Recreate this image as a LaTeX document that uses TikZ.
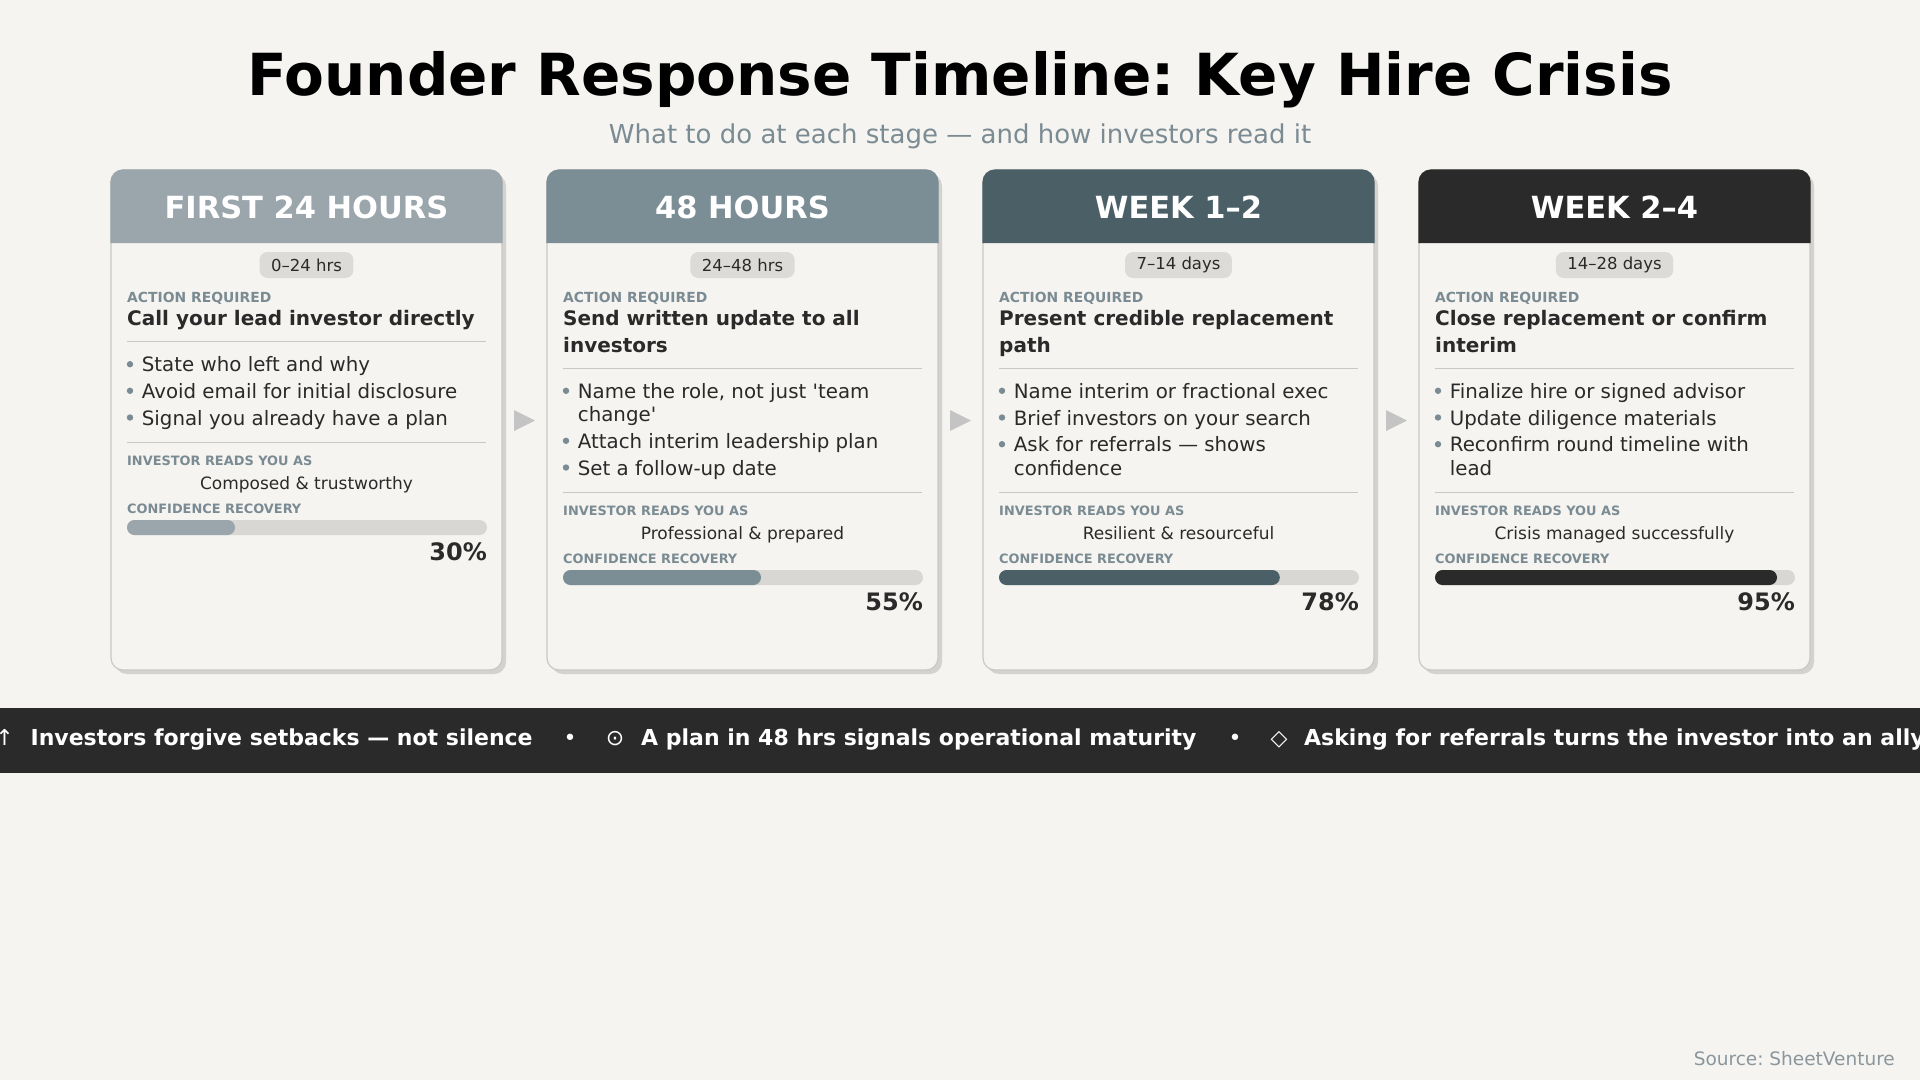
\documentclass[tikz,border=0pt]{standalone}
\usepackage{fontspec}
\setmainfont{DejaVu Sans}
\frenchspacing
\definecolor{bgc}{HTML}{F5F4F0}
\definecolor{cardc}{HTML}{F5F4F0}
\definecolor{borderc}{HTML}{C8C8C5}
\definecolor{shadowc}{HTML}{D3D2CE}
\definecolor{hA}{HTML}{9AA6AB}
\definecolor{hB}{HTML}{7B8E96}
\definecolor{hC}{HTML}{4B5F67}
\definecolor{hD}{HTML}{2A2A2A}
\definecolor{lblc}{HTML}{7B8B93}
\definecolor{darkc}{HTML}{2A2A2A}
\definecolor{pillc}{HTML}{DCDBD7}
\definecolor{trackc}{HTML}{D8D7D3}
\definecolor{divc}{HTML}{C8C8C5}
\definecolor{arrc}{HTML}{C4C4C4}
\definecolor{bannerc}{HTML}{2A2A2A}
\definecolor{srcc}{HTML}{8A969C}
\tikzset{
  cardbox/.style={draw=borderc, line width=1.2pt, fill=cardc, rounded corners=12pt, minimum width=391pt, minimum height=500pt, inner sep=0pt},
  headtxt/.style={anchor=base, inner sep=0pt, text=white, font=\bfseries\fontsize{30.5}{36}\selectfont},
  pill/.style={fill=pillc, rounded corners=8pt, minimum height=26pt, inner xsep=11.5pt, inner ysep=0pt, text=darkc, font=\fontsize{16.5}{20}\selectfont},
  lbl/.style={anchor=base west, inner sep=0pt, text=lblc, font=\bfseries\fontsize{13.9}{16}\selectfont},
  lbls/.style={anchor=base west, inner sep=0pt, text=lblc, font=\bfseries\fontsize{12.9}{15}\selectfont},
  ttl/.style={anchor=base west, inner sep=0pt, text=darkc, font=\bfseries\fontsize{20}{24}\selectfont},
  blt/.style={anchor=base west, inner sep=0pt, text=darkc, font=\fontsize{19.8}{24}\selectfont},
  reads/.style={anchor=base, inner sep=0pt, text=darkc, font=\fontsize{17}{20}\selectfont},
  pct/.style={anchor=base east, inner sep=0pt, text=darkc, font=\bfseries\fontsize{24}{28}\selectfont},
  divline/.style={draw=divc, line width=1pt},
  bantxt/.style={anchor=base west, inner sep=0pt, text=white, font=\bfseries\fontsize{22}{26}\selectfont},
  banico/.style={anchor=base, inner sep=0pt, text=white, font=\fontsize{22}{26}\selectfont},
}
\newcommand{\mybul}[3]{\fill[lblc] (19,#2-7.5) circle (3.2pt); \node[blt] (#1) at (30.7,#2) {#3};}
\newcommand{\mycardtop}[4]{% name, header colour, header text, pill text
  \fill[shadowc, rounded corners=12pt] (4,174) rectangle (395,674);
  \node[cardbox] (#1) at (195.5,420) {};
  \fill[#2] (0,243) [rounded corners=12pt]-- (0,170) -- (391,170) [sharp corners]-- (391,243) -- cycle;
  \draw[#2, line width=1.2pt] (0,243) [rounded corners=12pt]-- (0,170) -- (391,170) [sharp corners]-- (391,243);
  \node[headtxt] (#1h) at (195.5,218) {#3};
  \node[pill] (#1p) at (195.5,265) {#4};
  \node[lbl] (#1a) at (16,302) {ACTION REQUIRED};
}
\newcommand{\mycardbottom}[5]{% name, shift, reads text, pct, colour
  \draw[divline] (16,442.3+#2) -- (375,442.3+#2);
  \node[lbls] (#1i) at (16,465+#2) {INVESTOR READS YOU AS};
  \node[reads] (#1r) at (195.5,489+#2) {#3};
  \node[lbls] (#1c) at (16,513+#2) {CONFIDENCE RECOVERY};
  \fill[trackc, rounded corners=7.5pt] (16,520+#2) rectangle (376,535+#2);
  \fill[#5, rounded corners=7.5pt] (16,520+#2) rectangle (16+3.6*#4,535+#2);
  \node[pct] (#1v) at (376,560+#2) {#4\%};
}
\begin{document}
\begin{tikzpicture}[x=1pt,y=-1pt]
\fill[bgc] (0,0) rectangle (1920,1080);
\useasboundingbox (0,0) rectangle (1920,1080);
\node[anchor=base, inner sep=0pt, font=\bfseries\fontsize{58}{66}\selectfont, text=black] (title) at (960,95.5) {Founder Response Timeline: Key Hire Crisis};
\node[anchor=base, inner sep=0pt, font=\fontsize{26}{30}\selectfont, text=lblc] (subtitle) at (960,143) {What to do at each stage — and how investors read it};

% card 1
\begin{scope}[xshift=111pt]
\mycardtop{cA}{hA}{FIRST 24 HOURS}{0–24 hrs}
\node[ttl] (cAt) at (16,325.7) {Call your lead investor directly};
\draw[divline] (16,341.7) -- (375,341.7);
\mybul{cAb1}{371.7}{State who left and why}
\mybul{cAb2}{398.3}{Avoid email for initial disclosure}
\mybul{cAb3}{425}{Signal you already have a plan}
\mycardbottom{cA}{0}{Composed \& trustworthy}{30}{hA}
\end{scope}

% card 2
\begin{scope}[xshift=547pt]
\mycardtop{cB}{hB}{48 HOURS}{24–48 hrs}
\node[ttl] (cBt) at (16,325.7) {Send written update to all};
\node[ttl] (cBt2) at (16,352.3) {investors};
\draw[divline] (16,368.3) -- (375,368.3);
\mybul{cBb1}{398.3}{Name the role, not just \textquotesingle team}
\node[blt] (cBb1w) at (30.7,421.7) {change\textquotesingle};
\mybul{cBb2}{448.3}{Attach interim leadership plan}
\mybul{cBb3}{475}{Set a follow-up date}
\mycardbottom{cB}{50}{Professional \& prepared}{55}{hB}
\end{scope}

% card 3
\begin{scope}[xshift=983pt]
\mycardtop{cC}{hC}{WEEK 1–2}{7–14 days}
\node[ttl] (cCt) at (16,325.7) {Present credible replacement};
\node[ttl] (cCt2) at (16,352.3) {path};
\draw[divline] (16,368.3) -- (375,368.3);
\mybul{cCb1}{398.3}{Name interim or fractional exec}
\mybul{cCb2}{425}{Brief investors on your search}
\mybul{cCb3}{451.7}{Ask for referrals — shows}
\node[blt] (cCb3w) at (30.7,475) {confidence};
\mycardbottom{cC}{50}{Resilient \& resourceful}{78}{hC}
\end{scope}

% card 4
\begin{scope}[xshift=1419pt]
\mycardtop{cD}{hD}{WEEK 2–4}{14–28 days}
\node[ttl] (cDt) at (16,325.7) {Close replacement or confirm};
\node[ttl] (cDt2) at (16,352.3) {interim};
\draw[divline] (16,368.3) -- (375,368.3);
\mybul{cDb1}{398.3}{Finalize hire or signed advisor}
\mybul{cDb2}{425}{Update diligence materials}
\mybul{cDb3}{451.7}{Reconfirm round timeline with}
\node[blt] (cDb3w) at (30.7,475) {lead};
\mycardbottom{cD}{50}{Crisis managed successfully}{95}{hD}
\end{scope}

% arrows between cards
\fill[arrc] (514,410) -- (535,420.5) -- (514,431) -- cycle;
\fill[arrc] (950,410) -- (971,420.5) -- (950,431) -- cycle;
\fill[arrc] (1386,410) -- (1407,420.5) -- (1386,431) -- cycle;

% banner
\fill[bannerc] (0,708) rectangle (1920,773);
\node[banico] (i1) at (4.5,745) {↑};
\node[bantxt] (t1) at (30.4,745) {Investors forgive setbacks — not silence};
\node[banico] (s1) at (570,745) {•};
\node[banico] (i2) at (615,745) {⊙};
\node[bantxt] (t2) at (641,745) {A plan in 48 hrs signals operational maturity};
\node[banico] (s2) at (1235,745) {•};
\node[banico] (i3) at (1279,745) {◇};
\node[bantxt] (t3) at (1304,745) {Asking for referrals turns the investor into an ally};

\node[anchor=base east, inner sep=0pt, text=srcc, font=\fontsize{18.5}{22}\selectfont] (src) at (1895,1065) {Source: SheetVenture};
\end{tikzpicture}
\end{document}
